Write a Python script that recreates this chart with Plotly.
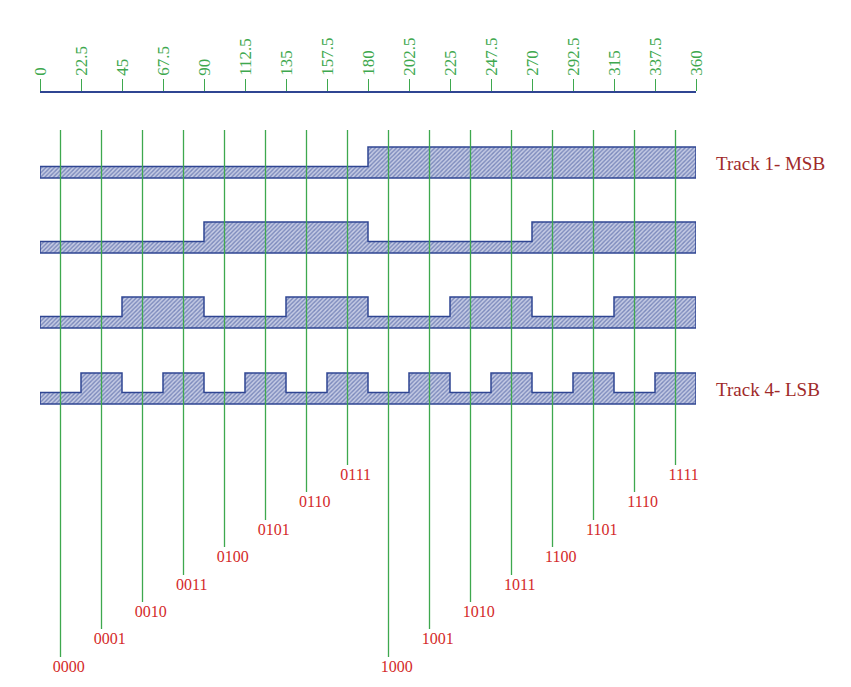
import plotly.graph_objects as go

# angle ticks along the top
tick_vals = [0, 22.5, 45, 67.5, 90, 112.5, 135, 157.5, 180, 202.5, 225, 247.5, 270, 292.5, 315, 337.5, 360]
tick_text = ["0", "22.5", "45", "67.5", "90", "112.5", "135", "157.5", "180",
             "202.5", "225", "247.5", "270", "292.5", "315", "337.5", "360"]

# 4-bit codes per 22.5 deg sector
codes = ["0000", "0001", "0010", "0011", "0100", "0101", "0110", "0111",
         "1000", "1001", "1010", "1011", "1100", "1101", "1110", "1111"]
sector = 22.5

# track baselines (in page px, y down) and labels
track_base = [170, 245, 320, 396]
track_names = {0: "Track 1- MSB", 3: "Track 4- LSB"}
hi_h, lo_h = 31, 11.5

# vertical placement of the code labels (px)
label_y = [660, 632, 605, 578, 550, 523, 495, 468]
line_top = 122

fill_col = "#2f4592"
green = "#3ea84e"
red = "#d42a2a"

fig = go.Figure()

for t, base in enumerate(track_base):
    xs, ys = [0], [base]
    for i, c in enumerate(codes):
        h = hi_h if c[t] == "1" else lo_h
        xs += [i * sector, (i + 1) * sector]
        ys += [base - h, base - h]
    xs += [360, 0]
    ys += [base, base]
    fig.add_trace(go.Scatter(
        x=xs, y=ys, mode="lines", fill="toself",
        line=dict(color=fill_col, width=1.5, shape="linear"),
        fillpattern=dict(shape="/", fgcolor=fill_col, bgcolor="#c5cbe4", size=3, solidity=0.45),
        hoverinfo="skip", showlegend=False))
    if t in track_names:
        fig.add_annotation(x=360, y=base - 15, text=track_names[t], xanchor="left", xshift=18,
                           showarrow=False, font=dict(color="#a02a2a", size=19))

lx, ly, tx, ty = [], [], [], []
for i, c in enumerate(codes):
    xc = (i + 0.5) * sector
    yl = label_y[i % 8]
    lx += [xc, xc, None]
    ly += [line_top, yl - 11, None]
    tx.append(xc + 4.5)
    ty.append(yl)

fig.add_trace(go.Scatter(x=lx, y=ly, mode="lines", line=dict(color=green, width=1.3),
                         hoverinfo="skip", showlegend=False))
fig.add_trace(go.Scatter(x=tx, y=ty, mode="text", text=codes, cliponaxis=False,
                         textfont=dict(color=red, size=16), hoverinfo="skip", showlegend=False))

fig.update_layout(
    width=851, height=687, margin=dict(l=32, r=163, t=0, b=0, pad=0),
    plot_bgcolor="white", paper_bgcolor="white",
    font=dict(family="Liberation Serif, DejaVu Serif, serif"),
    xaxis=dict(range=[0, 360], side="top", anchor="free", position=1 - 84 / 687,
               tickvals=tick_vals, ticktext=tick_text, tickangle=-90, automargin=False,
               ticks="outside", ticklen=12, tickcolor=green, tickwidth=1.3,
               tickfont=dict(color=green, size=17),
               showline=True, linecolor=fill_col, linewidth=1.5,
               showgrid=False, zeroline=False),
    yaxis=dict(range=[687, 0], visible=False, showgrid=False, automargin=False),
)

fig.write_html("out.html")
